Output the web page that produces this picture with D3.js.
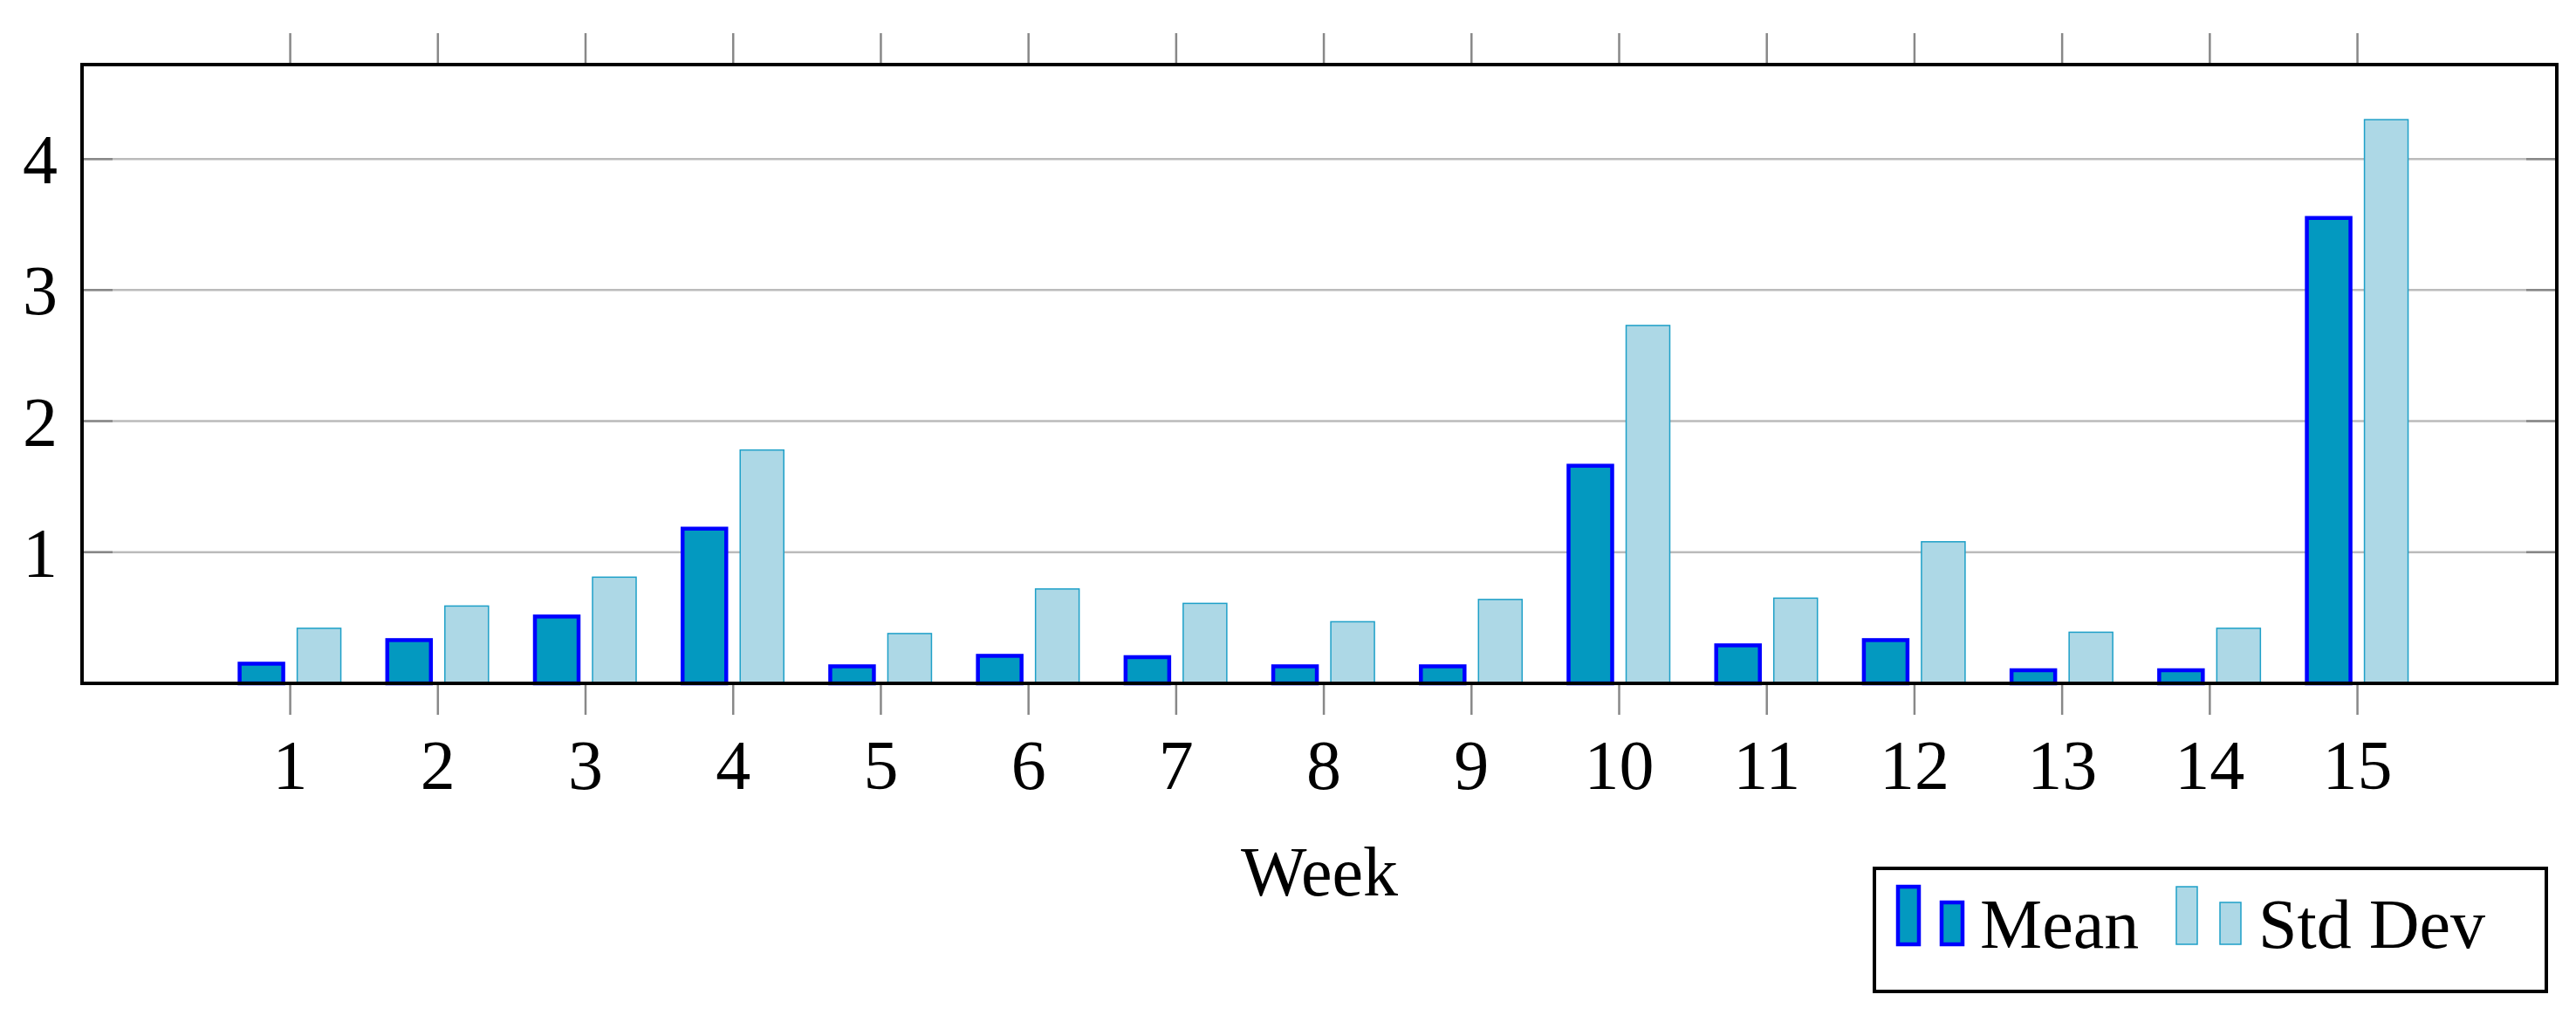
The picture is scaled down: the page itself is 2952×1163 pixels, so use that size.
<!DOCTYPE html>
<html>
<head>
<meta charset="utf-8">
<script src="https://cdn.jsdelivr.net/npm/d3@7"></script>
<style>
  body { margin: 0; background: #fff; }
  text { font-family: 'Liberation Serif', 'DejaVu Serif', serif; fill: #000; }
</style>
</head>
<body>
<div class="chart"></div>
<script>
const weeks = [1, 2, 3, 4, 5, 6, 7, 8, 9, 10, 11, 12, 13, 14, 15];
const meanValues = [0.15, 0.33, 0.51, 1.18, 0.13, 0.21, 0.2, 0.13, 0.13, 1.66, 0.29, 0.33, 0.1, 0.1, 3.55];
const stdValues = [0.42, 0.59, 0.81, 1.78, 0.38, 0.72, 0.61, 0.47, 0.64, 2.73, 0.65, 1.08, 0.39, 0.42, 4.3];
const yTicks = [1, 2, 3, 4];
const seriesNames = ['Mean', 'Std Dev'];

const W = 2952, H = 1163;
const plot = { left: 94, top: 74, right: 2930, bottom: 783 };

const svg = d3.select('.chart').append('svg').attr('width', W).attr('height', H);

const x = d3.scaleLinear().domain([-0.41, 16.35]).range([plot.left, plot.right]);
const y = d3.scaleLinear().domain([0, 4.72]).range([plot.bottom, plot.top]);

// grid
svg.append('g').selectAll('line').data(yTicks).enter().append('line')
  .attr('x1', plot.left).attr('x2', plot.right)
  .attr('y1', d => y(d)).attr('y2', d => y(d))
  .attr('stroke', '#bbb').attr('stroke-width', 2.5);

// y ticks inside, left and right
[plot.left, plot.right - 35].forEach(x0 => {
  svg.append('g').selectAll('line').data(yTicks).enter().append('line')
    .attr('x1', x0).attr('x2', x0 + 35)
    .attr('y1', d => y(d)).attr('y2', d => y(d))
    .attr('stroke', '#888').attr('stroke-width', 2.5);
});

// x ticks outside, top and bottom
svg.append('g').selectAll('line').data(weeks).enter().append('line')
  .attr('x1', d => x(d)).attr('x2', d => x(d))
  .attr('y1', plot.top - 36).attr('y2', plot.top)
  .attr('stroke', '#888').attr('stroke-width', 2.5);
svg.append('g').selectAll('line').data(weeks).enter().append('line')
  .attr('x1', d => x(d)).attr('x2', d => x(d))
  .attr('y1', plot.bottom).attr('y2', plot.bottom + 36)
  .attr('stroke', '#888').attr('stroke-width', 2.5);

const barW = 50;
const offset = 33;

svg.append('g').selectAll('rect').data(weeks).enter().append('rect')
  .attr('x', (d, i) => x(d) - offset - barW / 2)
  .attr('y', (d, i) => y(meanValues[i]))
  .attr('width', barW)
  .attr('height', (d, i) => y(0) - y(meanValues[i]))
  .attr('fill', '#0399c0').attr('stroke', '#0000ff').attr('stroke-width', 4.5);

svg.append('g').selectAll('rect').data(weeks).enter().append('rect')
  .attr('x', (d, i) => x(d) + offset - barW / 2)
  .attr('y', (d, i) => y(stdValues[i]))
  .attr('width', barW)
  .attr('height', (d, i) => y(0) - y(stdValues[i]))
  .attr('fill', '#add8e6').attr('stroke', '#1ea0c8').attr('stroke-width', 1.5);

// frame
svg.append('rect')
  .attr('x', plot.left).attr('y', plot.top)
  .attr('width', plot.right - plot.left).attr('height', plot.bottom - plot.top)
  .attr('fill', 'none').attr('stroke', '#000').attr('stroke-width', 4);

// tick labels
svg.append('g').selectAll('text').data(weeks).enter().append('text')
  .attr('x', d => x(d)).attr('y', 904)
  .attr('text-anchor', 'middle').attr('font-size', 80)
  .text(d => d);
svg.append('g').selectAll('text').data(yTicks).enter().append('text')
  .attr('x', 66).attr('y', d => y(d) + 28)
  .attr('text-anchor', 'end').attr('font-size', 80)
  .text(d => d);

svg.append('text').attr('x', 1512).attr('y', 1026)
  .attr('text-anchor', 'middle').attr('font-size', 80).text('Week');

// legend
const lg = svg.append('g');
lg.append('rect').attr('x', 2148).attr('y', 995).attr('width', 770).attr('height', 141)
  .attr('fill', '#fff').attr('stroke', '#000').attr('stroke-width', 4);
const legendItems = [
  { name: seriesNames[0], x0: 2175, fill: '#0399c0', stroke: '#0000ff', sw: 4.5 },
  { name: seriesNames[1], x0: 2494, fill: '#add8e6', stroke: '#1ea0c8', sw: 1.5 },
];
legendItems.forEach(it => {
  lg.append('rect').attr('x', it.x0).attr('y', 1016).attr('width', 24).attr('height', 66)
    .attr('fill', it.fill).attr('stroke', it.stroke).attr('stroke-width', it.sw);
  lg.append('rect').attr('x', it.x0 + 50).attr('y', 1034).attr('width', 24).attr('height', 48)
    .attr('fill', it.fill).attr('stroke', it.stroke).attr('stroke-width', it.sw);
  lg.append('text').attr('x', it.x0 + 94).attr('y', 1086).attr('font-size', 80).text(it.name);
});
</script>
</body>
</html>
